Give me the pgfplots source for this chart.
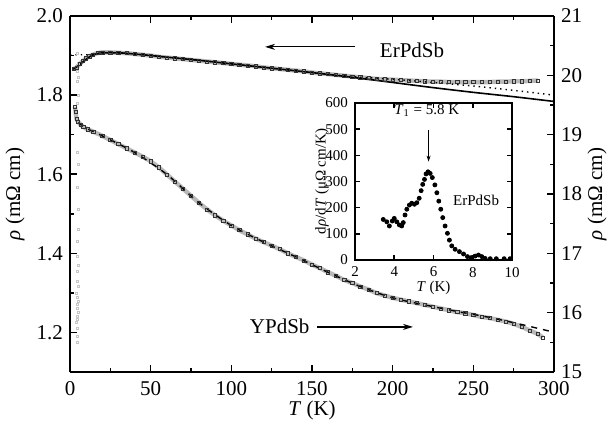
\documentclass[border=0pt]{standalone}
\usepackage{fontspec}
\setmainfont{Liberation Serif}
\usepackage{pgfplots}
\pgfplotsset{compat=1.18}
\usetikzlibrary{arrows.meta}
\newcommand{\mfnt}{\fontsize{10.5}{12}\selectfont}
\newcommand{\ifnt}{\fontsize{7.5}{9}\selectfont}

\pgfplotstableread{
T L
2.5 1.866
4 1.870
6 1.879
8 1.886
10 1.893
12 1.898
14 1.902
17 1.906
20 1.908
25 1.908
30 1.907
35 1.906
40 1.904
45 1.902
50 1.900
55 1.897
60 1.895
65 1.893
70 1.891
75 1.889
80 1.887
85 1.885
90 1.883
95 1.881
100 1.879
105 1.877
110 1.875
115 1.873
120 1.870
125 1.868
130 1.866
135 1.864
140 1.862
145 1.860
150 1.857
155 1.855
160 1.853
165 1.851
170 1.849
175 1.847
180 1.845
185 1.843
190 1.841
195 1.840
200 1.839
205 1.838
210 1.837
215 1.836
220 1.835
225 1.834
230 1.834
235 1.833
240 1.833
245 1.833
250 1.833
255 1.833
260 1.833
265 1.834
270 1.834
275 1.835
280 1.835
285 1.836
290 1.837
}\erdata

\pgfplotstableread{
T L
2 1.865
5 1.874
8 1.884
11 1.894
14 1.901
17 1.905
20 1.907
30 1.907
40 1.904
60 1.896
80 1.888
100 1.879
125 1.868
150 1.857
175 1.845
200 1.832
225 1.819
250 1.807
275 1.796
300 1.784
}\erfitA

\pgfplotstableread{
T L
0 1.902
10 1.902
15 1.903
20 1.906
30 1.907
40 1.904
60 1.896
80 1.888
100 1.879
125 1.868
150 1.857
175 1.847
200 1.840
225 1.832
250 1.823
275 1.812
300 1.800
}\erfitB

\pgfplotstableread{
T L
4.5 1.905
5.0 1.880
4.8 1.860
5.2 1.845
4.6 1.834
5.0 1.800
4.4 1.780
4.7 1.655
5.0 1.624
4.8 1.566
5.2 1.511
4.9 1.460
4.3 1.430
4.8 1.392
5.0 1.370
4.6 1.355
4.4 1.330
5.0 1.317
4.2 1.300
4.6 1.290
4.9 1.280
4.3 1.270
4.7 1.260
5.0 1.250
4.4 1.240
4.8 1.232
4.2 1.226
4.6 1.210
4.3 1.190
4.7 1.175
}\lowT

\pgfplotstableread{
T R
3 19.47
3.5 19.38
4 19.27
5 19.22
6.5 19.17
8.3 19.13
11 19.09
14.5 19.05
20 18.98
25 18.91
30 18.84
35 18.77
40 18.70
45 18.63
50 18.55
55 18.45
60 18.33
65 18.21
70 18.09
75 17.97
80 17.85
85 17.74
90 17.64
95 17.55
100 17.47
105 17.39
110 17.32
115 17.25
120 17.19
125 17.13
130 17.07
135 17.00
140 16.94
145 16.88
150 16.81
155 16.75
160 16.68
165 16.62
170 16.55
175 16.50
180 16.44
185 16.39
190 16.33
195 16.29
200 16.25
205 16.22
210 16.19
215 16.16
220 16.13
225 16.10
230 16.07
235 16.04
240 16.01
245 15.99
250 15.96
255 15.93
260 15.91
265 15.88
270 15.85
275 15.81
280 15.76
285 15.70
290 15.64
293 15.58
}\ydata

\pgfplotstableread{
T R
5 19.20
10 19.11
20 18.98
40 18.70
60 18.33
80 17.85
100 17.47
120 17.19
140 16.94
160 16.68
180 16.44
200 16.25
220 16.13
240 16.02
260 15.92
280 15.80
300 15.67
}\yfit

\pgfplotstableread{
T D
3.44 155
3.62 146
3.75 130
3.90 149
4.00 159
4.13 146
4.26 134
4.38 130
4.46 143
4.55 172
4.64 194
4.77 210
4.89 217
5.03 213
5.15 219
5.27 236
5.37 265
5.45 289
5.54 308
5.62 329
5.72 337
5.83 331
5.94 315
6.07 287
6.17 257
6.27 225
6.37 194
6.47 162
6.59 130
6.71 102
6.81 76
6.93 54
7.10 41
7.32 32
7.53 23
7.73 13
7.92 9
8.12 15
8.29 19
8.46 13
8.63 6
8.89 5
9.20 5
9.60 5
9.90 5
}\inset

\begin{document}
\begin{tikzpicture}
\pgfplotsset{
  every axis/.append style={
    /pgf/number format/assume math mode=true,
    tick label style={font=\mfnt},
    label style={font=\mfnt},
    axis line style={line width=0.9pt},
    major tick style={line width=0.8pt, black},
    minor tick style={line width=0.8pt, black},
    major tick length=3.5pt,
    minor tick length=2pt,
    tick align=inside,
  }
}
% main axis (left)
\begin{axis}[
  width=242pt, height=178pt, scale only axis,
  xmin=0, xmax=300, ymin=1.1, ymax=2.0,
  axis y line*=left,
  xtick={0,50,100,150,200,250,300},
  minor xtick={25,75,125,175,225,275},
  ytick={1.2,1.4,1.6,1.8,2.0},
  minor ytick={1.3,1.5,1.7,1.9},
  yticklabel style={/pgf/number format/.cd, fixed, fixed zerofill, precision=1},
  xticklabel style={yshift=-1.2pt},
  xlabel={\textit{T} (K)},
  ylabel={\textit{ρ} (mΩ cm)},
  xlabel style={at={(axis description cs:0.5,-0.107)}, anchor=center},
  ylabel style={at={(axis description cs:-0.1136,0.5)}, anchor=center},
]
\addplot[only marks, mark=square, mark size=0.5pt, gray!45, line width=0.3pt] table[x=T,y=L] {\lowT};
\addplot[gray!55, line width=2.2pt, smooth] table[x=T,y=L] {\erdata};
\addplot[only marks, mark=square, mark size=0.8pt, black!80, line width=0.3pt] table[x=T,y=L] {\erdata};
\addplot[black, line width=0.8pt, smooth] table[x=T,y=L] {\erfitA};
\addplot[black, dotted, line width=0.7pt, smooth] table[x=T,y=L] {\erfitB};
\draw[-{Stealth[length=5pt,width=3pt]}, line width=0.6pt] (axis cs:176.7,1.922) -- (axis cs:120.9,1.922);
\node[font=\mfnt] at (axis cs:212,1.914) {ErPdSb};
\node[font=\mfnt] at (axis cs:130,1.2164) {YPdSb};
\draw[-{Stealth[length=5pt,width=3pt]}, line width=0.6pt] (axis cs:153,1.214) -- (axis cs:212.6,1.214);
\end{axis}
% right axis
\begin{axis}[
  width=242pt, height=178pt, scale only axis,
  xmin=0, xmax=300, ymin=15, ymax=21,
  axis y line*=right, axis x line=none,
  axis line style={line width=1.3pt},
  ytick={15,16,17,18,19,20,21},
  minor ytick={15.5,16.5,17.5,18.5,19.5,20.5},
  yticklabel style={/pgf/number format/.cd, fixed, precision=0},
  ylabel={\textit{ρ} (mΩ cm)},
  ylabel style={at={(axis description cs:1.0888,0.5)}, anchor=center},
]
\addplot[gray!55, line width=2.2pt, smooth] table[x=T,y=R] {\ydata};
\addplot[only marks, mark=square, mark size=0.8pt, black!80, line width=0.3pt] table[x=T,y=R] {\ydata};
\addplot[black, dashed, line width=0.7pt, smooth] table[x=T,y=R] {\yfit};
\end{axis}
% inset
\begin{axis}[
  at={(142.5pt,56pt)}, anchor=south west,
  width=78.5pt, height=78.5pt, scale only axis,
  axis background/.style={fill=white},
  xmin=2, xmax=10, ymin=0, ymax=600,
  xtick={2,4,6,8,10}, ytick={0,100,200,300,400,500,600},
  tick label style={font=\ifnt},
  label style={font=\ifnt},
  axis line style={line width=0.6pt},
  major tick length=2.5pt,
  xtick pos=both, ytick pos=both,
  xticklabel pos=lower, yticklabel pos=left,
  xlabel={\textit{T} (K)},
  ylabel={d\textit{ρ}/d\textit{T} (μΩ cm/K)},
  xlabel style={at={(axis description cs:0.5,-0.178)}, anchor=center},
  ylabel style={at={(axis description cs:-0.21,0.5)}, anchor=center},
]
\addplot[only marks, mark=*, mark size=1pt, black] table[x=T,y=D] {\inset};
\node[font=\ifnt] at (axis cs:5.66,573) {\textit{T}\textsubscript{1} = 5.8 K};
\draw[-{Stealth[length=3pt,width=2pt]}, line width=0.5pt] (axis cs:5.75,497) -- (axis cs:5.75,376);
\node[font=\ifnt] at (axis cs:8.17,229) {ErPdSb};
\end{axis}
\pgfresetboundingbox
\path[use as bounding box] (-35pt,-28pt) rectangle (270pt,186pt);
\end{tikzpicture}
\end{document}
